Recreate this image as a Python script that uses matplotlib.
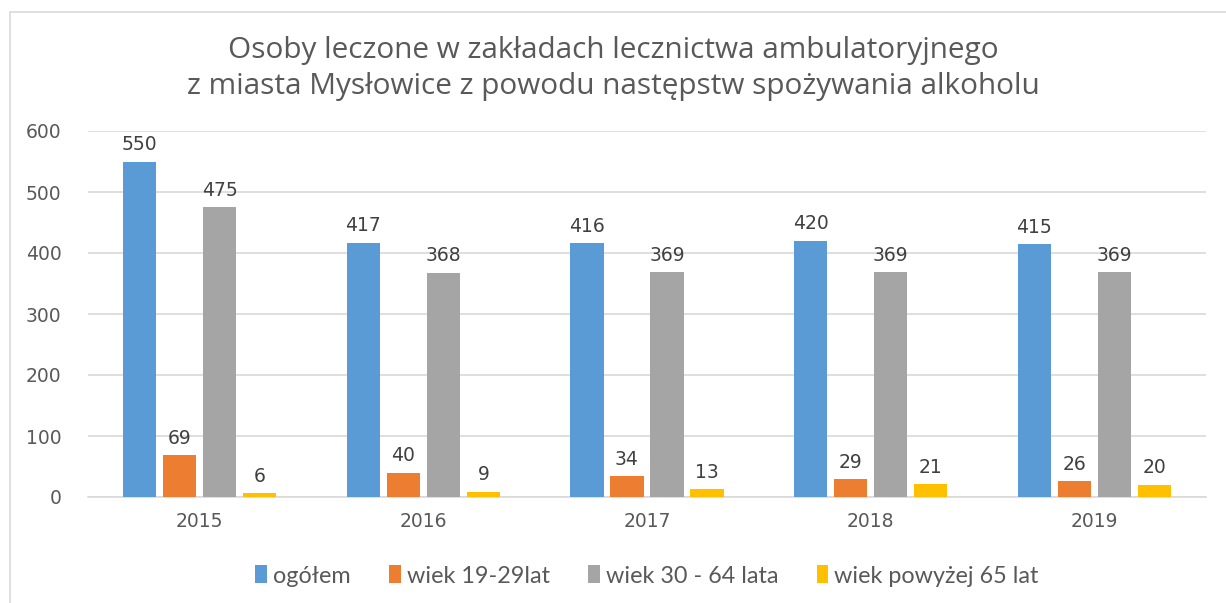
import matplotlib.pyplot as plt
import numpy as np
from matplotlib.patches import Rectangle

years = ['2015', '2016', '2017', '2018', '2019']
series_names = ['ogółem', 'wiek 19-29lat', 'wiek 30 - 64 lata', 'wiek powyżej 65 lat']
ogolem = [550, 417, 416, 420, 415]
wiek_19_29 = [69, 40, 34, 29, 26]
wiek_30_64 = [475, 368, 369, 369, 369]
wiek_65 = [6, 9, 13, 21, 20]
colors = ['#5B9BD5', '#ED7D31', '#A5A5A5', '#FFC000']

title = 'Osoby leczone w zakładach lecznictwa ambulatoryjnego\nz miasta Mysłowice z powodu następstw spożywania alkoholu'

plt.rcParams['font.family'] = ['DejaVu Sans']
fig = plt.figure(figsize=(12.26, 6.03), dpi=100)
ax = fig.add_axes([88/1226, 1 - 497/603, 1118/1226, 366/603])

# chart frame (light border like in the office chart)
fig.patches.append(Rectangle((10/1226, -0.1), 1.2, 1 - 12/603 + 0.1, transform=fig.transFigure,
                             fill=False, edgecolor='#D9D9D9', linewidth=1.2))

x = np.arange(len(years))
width = 0.148
step = 0.179
data = [ogolem, wiek_19_29, wiek_30_64, wiek_65]
for i, (vals, name, c) in enumerate(zip(data, series_names, colors)):
    pos = x + (i - 1.5) * step
    bars = ax.bar(pos, vals, width, color=c, label=name, zorder=3)
    for b, v in zip(bars, vals):
        ax.text(b.get_x() + b.get_width() / 2, v + 12, str(v), ha='center', va='bottom',
                fontsize=13.5, color='#404040')

ax.set_xlim(-0.5, len(years) - 0.5)
ax.set_ylim(0, 600)
ax.set_yticks(np.arange(0, 601, 100))
ax.set_xticks(x)
ax.set_xticklabels(years)
ax.tick_params(axis='both', length=0, labelsize=13.5, labelcolor='#595959')
ax.tick_params(axis='y', pad=19)
ax.tick_params(axis='x', pad=11)
ax.yaxis.grid(True, color='#D9D9D9', linewidth=1.2, zorder=0)
for s in ['top', 'right', 'left']:
    ax.spines[s].set_visible(False)
ax.spines['bottom'].set_color('#D9D9D9')
ax.spines['bottom'].set_linewidth(1.2)

fig.text(0.5, 1 - 68.5/603, title, ha='center', va='center', fontsize=21.4, color='#595959',
         family=['Open Sans', 'DejaVu Sans'], linespacing=1.33)

ax.legend(loc='center', bbox_to_anchor=(0.5, -(576 - 497) / 366), ncol=4, frameon=False,
          handlelength=0.5, handleheight=0.8, handletextpad=0.25, columnspacing=1.65,
          labelcolor='#595959', prop={'family': ['Lato', 'DejaVu Sans'], 'size': 16.8})

fig.savefig('out.png', dpi=100)
